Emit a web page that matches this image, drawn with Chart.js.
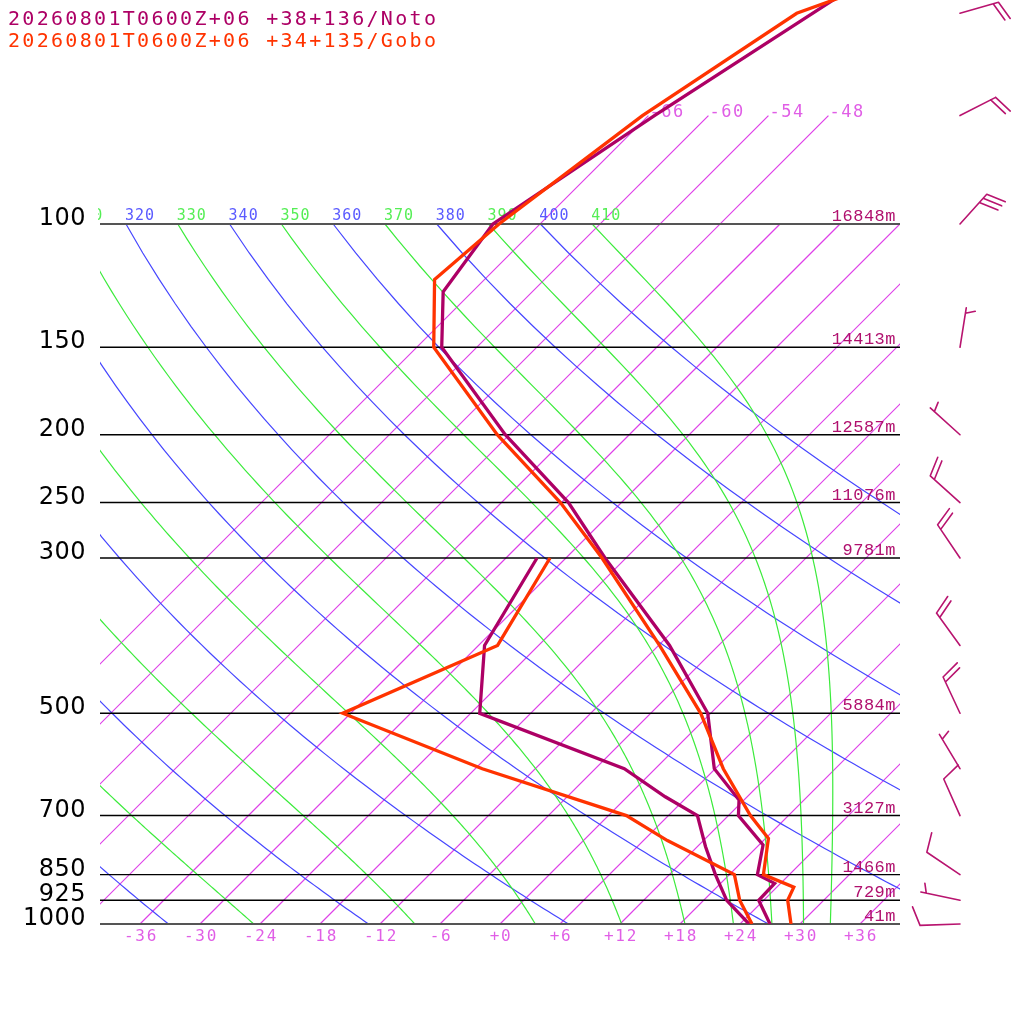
<!DOCTYPE html>
<html>
<head>
<meta charset="utf-8">
<title>Skew-T</title>
<script src="https://cdn.jsdelivr.net/npm/chart.js@4.4.1/dist/chart.umd.min.js"></script>
<style>
  html, body { margin: 0; padding: 0; background: #fff; }
</style>
</head>
<body>
<canvas id="skewt" width="1024" height="1024"></canvas>
<script>
// Noto sounding (temperature and dew point, hPa / degC)
const notoP = [1000, 925, 875, 850, 771, 700, 665, 600, 500, 400, 300, 250, 200, 150, 125, 100, 70, 40];
const notoT = [27.0, 23.5, 23.4, 20.8, 18.4, 13.0, 11.5, 5.9, -0.3, -10.9, -26.1, -35.3, -48.4, -63.5, -68.9, -70.7, -65.4, -56.1];
const notoTdP = [1000, 925, 850, 775, 700, 658, 600, 500, 400, 300];
const notoTd = [24.9, 20.3, 16.6, 12.8, 8.9, 3.8, -3.1, -23.1, -29.4, -32.9];

// Gobo sounding
const goboP = [1000, 925, 886, 850, 755, 700, 600, 500, 400, 300, 250, 200, 150, 120, 100, 70, 50, 40];
const goboT = [29.1, 26.4, 25.7, 21.4, 18.3, 14.2, 6.8, -1.0, -11.9, -26.4, -36.1, -49.2, -64.3, -71.0, -70.1, -66.6, -61.4, -49.4];
const goboTdP = [1000, 925, 850, 760, 700, 600, 500, 400, 300];
const goboTd = [25.2, 21.6, 18.5, 8.4, 1.8, -17.3, -36.8, -28.1, -31.6];

// winds of the Noto sounding (direction from, knots)
const windP = [1000, 925, 850, 700, 600, 500, 400, 300, 250, 200, 150, 100, 70, 50];
const windDir = [268, 282, 304, 336, 329, 335, 324, 326, 312, 312, 9, 42, 63, 74];
const windKt = [10, 5, 10, 10, 5, 20, 20, 20, 20, 5, 5, 30, 20, 20];

// pressure levels and geopotential heights
const levels = [1000, 925, 850, 700, 500, 300, 250, 200, 150, 100];
const heights = ['41m', '729m', '1466m', '3127m', '5884m', '9781m', '11076m', '12587m', '14413m', '16848m'];

// background lines
const isotherms = [-66, -60, -54, -48, -42, -36, -30, -24, -18, -12, -6, 0, 6, 12, 18, 24, 30, 36];
const topIsotherms = [-66, -60, -54, -48];
const axisTemps = [-36, -30, -24, -18, -12, -6, 0, 6, 12, 18, 24, 30, 36];
const thetas = [240, 260, 280, 300, 320, 340, 360, 380, 400];
const thetaEs = [250, 270, 290, 310, 330, 350, 370, 390, 410];

const titles = ['20260801T0600Z+06 +38+136/Noto', '20260801T0600Z+06 +34+135/Gobo'];

const NOTO = '#ad0065';
const GOBO = '#ff3300';
const ISO = 'rgb(222, 64, 232)';
const SKEW = 70;
const PTOP = 1000 * Math.pow(10, -924 / 700);

const skewX = (t, p) => t + SKEW * Math.log10(1000 / p);
const toXY = (ps, ts) => ps.map((p, i) => ({ x: skewX(ts[i], p), y: p }));

// dT/dp along a saturated pseudo-adiabat
function moistLapse(p, T) {
  const es = 6.112 * Math.exp(17.67 * (T - 273.15) / (T - 29.65));
  const rs = 0.622 * es / (p - es);
  const L = 2.501e6;
  return (287.04 * T + L * rs) / (p * (1005.7 + L * L * rs * 0.622 / (287.04 * T * T)));
}

function pseudoAdiabat(theta) {
  let p = 100, T = theta * Math.pow(0.1, 0.2857);
  const pts = [[p, T - 273.15]];
  const h = 5;
  while (p < 1000) {
    const k1 = moistLapse(p, T);
    const k2 = moistLapse(p + h / 2, T + h / 2 * k1);
    const k3 = moistLapse(p + h / 2, T + h / 2 * k2);
    const k4 = moistLapse(p + h, T + h * k3);
    T += h / 6 * (k1 + 2 * k2 + 2 * k3 + k4);
    p += h;
    pts.push([p, T - 273.15]);
  }
  return pts;
}

function dryAdiabat(theta) {
  const pts = [];
  for (let p = 100; p <= 1000; p += 10) pts.push([p, theta * Math.pow(p / 1000, 0.2857) - 273.15]);
  return pts;
}

const fmtT = t => (t < 0 ? '-' : '+') + Math.abs(t);

const grid = {
  id: 'skewtGrid',
  beforeDatasetsDraw(chart) {
    const { ctx, chartArea, scales: { x, y } } = chart;
    const px = (t, p) => x.getPixelForValue(skewX(t, p));
    const py = p => y.getPixelForValue(p);
    const yb = py(1000);

    const poly = (pts, color) => {
      ctx.beginPath();
      pts.forEach(([p, t], i) => i ? ctx.lineTo(px(t, p), py(p)) : ctx.moveTo(px(t, p), py(p)));
      ctx.strokeStyle = color;
      ctx.lineWidth = 1.2;
      ctx.stroke();
    };

    ctx.save();
    ctx.beginPath();
    ctx.rect(chartArea.left, 0, chartArea.right - chartArea.left, yb);
    ctx.clip();

    isotherms.forEach(t => {
      const pt = topIsotherms.includes(t) ? 70 : 100;
      poly([[1000, t], [pt, t]], ISO);
    });
    thetas.forEach(th => poly(dryAdiabat(th), 'rgb(70, 70, 255)'));
    thetaEs.forEach(th => poly(pseudoAdiabat(th), 'rgb(60, 235, 60)'));
    ctx.restore();

    // pressure lines
    levels.forEach(p => {
      const edge = p === 100 || p === 1000;
      ctx.strokeStyle = edge ? '#555' : '#000';
      ctx.lineWidth = edge ? 2 : 1.4;
      ctx.beginPath();
      ctx.moveTo(chartArea.left, py(p));
      ctx.lineTo(chartArea.right, py(p));
      ctx.stroke();
    });

    // theta labels along 100 hPa
    ctx.save();
    ctx.beginPath();
    ctx.rect(98, 0, 810, 1024);
    ctx.clip();
    ctx.font = '15px "DejaVu Sans Mono"';
    ctx.letterSpacing = '1px';
    ctx.textAlign = 'left';
    ctx.textBaseline = 'alphabetic';
    const labTh = [...thetas.map(v => [v, '#5a5aff']), ...thetaEs.map(v => [v, '#55ee55'])];
    labTh.forEach(([th, c]) => {
      const t = th * Math.pow(0.1, 0.2857) - 273.15;
      ctx.fillStyle = c;
      ctx.fillText(String(th), px(t, 100) - 1, py(100) - 4);
    });
    ctx.restore();

    // isotherm labels
    ctx.fillStyle = '#e05ee6';
    ctx.font = '17px "DejaVu Sans Mono"';
    ctx.letterSpacing = '1.5px';
    ctx.textAlign = 'left';
    topIsotherms.forEach(t => ctx.fillText(fmtT(t), px(t, 70) + 1, py(70) + 1));
    ctx.font = '16px "DejaVu Sans Mono"';
    ctx.letterSpacing = '1.7px';
    ctx.textAlign = 'center';
    ctx.textBaseline = 'middle';
    axisTemps.forEach(t => ctx.fillText(fmtT(t), px(t, 1000) + 1, yb + 13));

    // pressure labels
    ctx.fillStyle = '#000';
    ctx.font = '24px "DejaVu Sans"';
    ctx.letterSpacing = '0.5px';
    ctx.textAlign = 'right';
    ctx.textBaseline = 'alphabetic';
    levels.forEach(p => ctx.fillText(String(p), 86, py(p) + 1));

    // heights
    ctx.fillStyle = '#b0106e';
    ctx.font = '17px "Liberation Mono"';
    ctx.letterSpacing = '0.5px';
    levels.forEach((p, i) => ctx.fillText(heights[i], 896, py(p) - 3));
    ctx.letterSpacing = '0px';
  }
};

function drawBarb(ctx, x0, y0, dir, kt) {
  const a = dir * Math.PI / 180;
  const ux = Math.sin(a), uy = -Math.cos(a);
  const r = 70 * Math.PI / 180;
  const bx = ux * Math.cos(r) - uy * Math.sin(r);
  const by = ux * Math.sin(r) + uy * Math.cos(r);
  const tx = x0 + 40 * ux, ty = y0 + 40 * uy;
  ctx.beginPath();
  ctx.moveTo(x0, y0);
  ctx.lineTo(tx, ty);
  const full = Math.floor(kt / 10);
  let pos = 0;
  for (let i = 0; i < full; i++) {
    const sx = tx - pos * ux, sy = ty - pos * uy;
    ctx.moveTo(sx, sy);
    ctx.lineTo(sx + 20 * bx, sy + 20 * by);
    pos += 5.5;
  }
  if (kt % 10 >= 5) {
    if (full === 0) pos = 5.5;
    const sx = tx - pos * ux, sy = ty - pos * uy;
    ctx.moveTo(sx, sy);
    ctx.lineTo(sx + 10 * bx, sy + 10 * by);
  }
  ctx.stroke();
}

const overlay = {
  id: 'overlay',
  afterDraw(chart) {
    const { ctx, scales: { y } } = chart;
    ctx.save();
    ctx.strokeStyle = '#b8146f';
    ctx.lineWidth = 1.6;
    ctx.lineCap = 'round';
    windP.forEach((p, i) => drawBarb(ctx, 960, y.getPixelForValue(p), windDir[i], windKt[i]));

    ctx.font = '20px "DejaVu Sans Mono"';
    ctx.letterSpacing = '2.3px';
    ctx.textAlign = 'left';
    ctx.textBaseline = 'alphabetic';
    ctx.fillStyle = NOTO;
    ctx.fillText(titles[0], 8, 25);
    ctx.fillStyle = GOBO;
    ctx.fillText(titles[1], 8, 47);
    ctx.restore();
  }
};

const line = (data, color, order) => ({
  data, borderColor: color, backgroundColor: color, showLine: true,
  pointRadius: 0, borderWidth: 3.3, tension: 0, order
});

new Chart(document.getElementById('skewt'), {
  type: 'scatter',
  data: {
    datasets: [
      line(toXY(goboP, goboT), GOBO, 0),
      line(toXY(goboTdP, goboTd), GOBO, 0),
      line(toXY(notoP, notoT), NOTO, 1),
      line(toXY(notoTdP, notoTd), NOTO, 1)
    ]
  },
  options: {
    responsive: false,
    animation: false,
    devicePixelRatio: 1,
    layout: { padding: { left: 100, right: 124, top: 0, bottom: 100 } },
    plugins: { legend: { display: false }, tooltip: { enabled: false } },
    scales: {
      x: { type: 'linear', min: -40, max: 40, display: false },
      y: { type: 'logarithmic', min: PTOP, max: 1000, reverse: true, display: false }
    }
  },
  plugins: [grid, overlay]
});
</script>
</body>
</html>
